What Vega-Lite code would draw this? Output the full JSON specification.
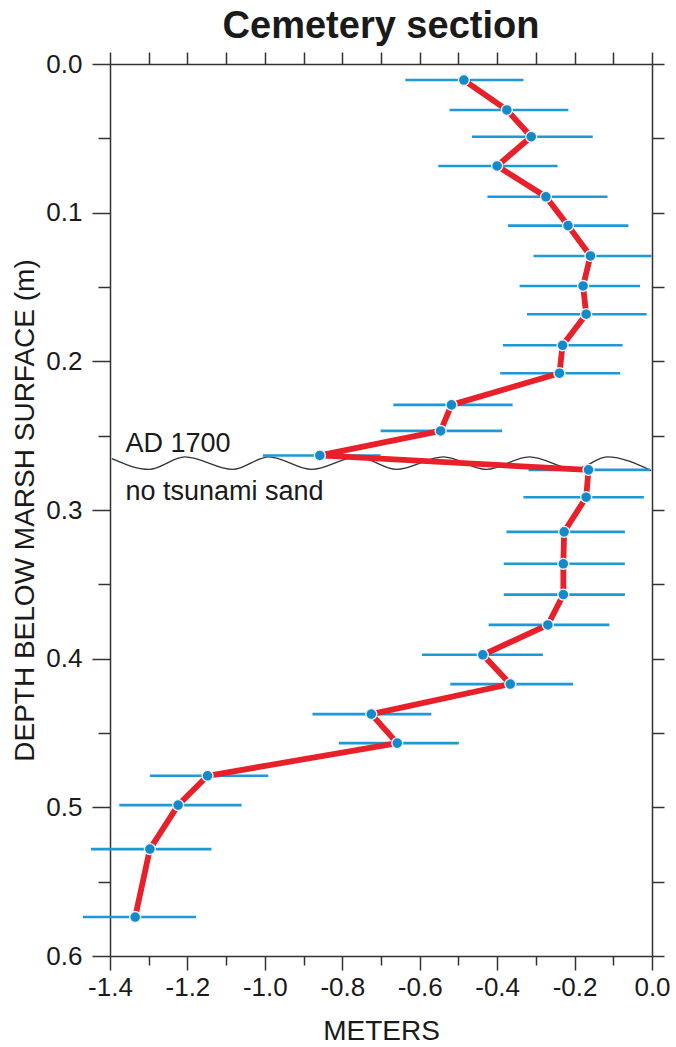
{
  "$schema": "https://vega.github.io/schema/vega-lite/v6.json",
  "autosize": {"type": "none"},
  "padding": {"left": 110, "top": 64, "right": 24, "bottom": 91},
  "width": 542,
  "height": 892,
  "background": "white",
  "config": {
    "view": {"stroke": null},
    "font": "Liberation Sans",
    "axis": {"grid": false, "labelFlush": false, "domainColor": "#333333", "domainWidth": 1.5, "tickColor": "#333333", "tickWidth": 1.5, "labelFont": "Liberation Sans", "labelFontSize": 26, "labelColor": "#1a1a1a", "titleFont": "Liberation Sans", "titleFontWeight": "normal", "titleColor": "#1a1a1a", "titleFontSize": 28}
  },
  "title": {"text": "Cemetery section", "fontSize": 38, "fontWeight": "bold", "font": "Liberation Sans", "color": "#1a1a1a", "anchor": "middle", "baseline": "alphabetic", "offset": -25},
  "datasets": {
    "pts": [
      {"depth": 0.0108, "val": -0.486, "lo": -0.637, "hi": -0.332},
      {"depth": 0.0309, "val": -0.375, "lo": -0.523, "hi": -0.216},
      {"depth": 0.0489, "val": -0.312, "lo": -0.465, "hi": -0.153},
      {"depth": 0.0686, "val": -0.400, "lo": -0.552, "hi": -0.244},
      {"depth": 0.0893, "val": -0.274, "lo": -0.425, "hi": -0.115},
      {"depth": 0.1087, "val": -0.217, "lo": -0.372, "hi": -0.061},
      {"depth": 0.1291, "val": -0.159, "lo": -0.306, "hi": -0.001},
      {"depth": 0.1493, "val": -0.178, "lo": -0.342, "hi": -0.031},
      {"depth": 0.1683, "val": -0.170, "lo": -0.323, "hi": -0.014},
      {"depth": 0.1892, "val": -0.231, "lo": -0.385, "hi": -0.076},
      {"depth": 0.2080, "val": -0.239, "lo": -0.392, "hi": -0.082},
      {"depth": 0.2293, "val": -0.518, "lo": -0.668, "hi": -0.360},
      {"depth": 0.2468, "val": -0.546, "lo": -0.701, "hi": -0.387},
      {"depth": 0.2633, "val": -0.858, "lo": -1.005, "hi": -0.701},
      {"depth": 0.2730, "val": -0.164, "lo": -0.319, "hi": -0.005},
      {"depth": 0.2914, "val": -0.170, "lo": -0.332, "hi": -0.021},
      {"depth": 0.3147, "val": -0.227, "lo": -0.376, "hi": -0.070},
      {"depth": 0.3362, "val": -0.229, "lo": -0.383, "hi": -0.070},
      {"depth": 0.3569, "val": -0.229, "lo": -0.383, "hi": -0.070},
      {"depth": 0.3773, "val": -0.269, "lo": -0.422, "hi": -0.110},
      {"depth": 0.3974, "val": -0.437, "lo": -0.594, "hi": -0.282},
      {"depth": 0.4171, "val": -0.366, "lo": -0.521, "hi": -0.204},
      {"depth": 0.4373, "val": -0.725, "lo": -0.877, "hi": -0.570},
      {"depth": 0.4568, "val": -0.658, "lo": -0.809, "hi": -0.499},
      {"depth": 0.4788, "val": -1.148, "lo": -1.297, "hi": -0.991},
      {"depth": 0.4985, "val": -1.224, "lo": -1.376, "hi": -1.060},
      {"depth": 0.5281, "val": -1.297, "lo": -1.449, "hi": -1.138},
      {"depth": 0.5738, "val": -1.335, "lo": -1.470, "hi": -1.178}
    ],
    "wave": [
      {"wx": -1.395, "wd": 0.2655},
      {"wx": -1.299, "wd": 0.2727},
      {"wx": -1.2065, "wd": 0.2643},
      {"wx": -1.083, "wd": 0.2727},
      {"wx": -0.990, "wd": 0.2643},
      {"wx": -0.879, "wd": 0.2727},
      {"wx": -0.7605, "wd": 0.2643},
      {"wx": -0.660, "wd": 0.2727},
      {"wx": -0.539, "wd": 0.2643},
      {"wx": -0.428, "wd": 0.2727},
      {"wx": -0.317, "wd": 0.2643},
      {"wx": -0.1985, "wd": 0.2727},
      {"wx": -0.116, "wd": 0.2643},
      {"wx": -0.002, "wd": 0.2735}
    ],
    "notes": [
      {"t": "AD 1700", "nx": -1.36, "nd": 0.2612},
      {"t": "no tsunami sand", "nx": -1.36, "nd": 0.2930}
    ]
  },
  "resolve": {"axis": {"x": "independent", "y": "independent"}},
  "layer": [
    {
      "data": {"name": "wave"},
      "mark": {"type": "line", "color": "#333333", "strokeWidth": 1.3, "interpolate": "monotone"},
      "encoding": {
        "x": {"field": "wx", "type": "quantitative", "scale": {"domain": [-1.4, 0], "nice": false, "zero": false},
          "axis": {"orient": "bottom", "title": "METERS", "values": [-1.4, -1.2, -1.0, -0.8, -0.6, -0.4, -0.2, 0], "tickSize": 14, "labelPadding": 4, "titlePadding": 17, "labelExpr": "(datum.value < -0.0001 ? '-' : '') + format(abs(datum.value), '.1f')"}},
        "y": {"field": "wd", "type": "quantitative", "scale": {"domain": [0, 0.6], "nice": false, "zero": false, "reverse": true},
          "axis": {"orient": "left", "title": "DEPTH BELOW MARSH SURFACE (m)", "values": [0, 0.1, 0.2, 0.3, 0.4, 0.5, 0.6], "tickSize": 18, "labelPadding": 10, "titlePadding": 6, "labelExpr": "format(datum.value, '.1f')"}},
        "order": {"field": "wx", "type": "quantitative"}
      }
    },
    {
      "data": {"name": "pts"},
      "mark": {"type": "rule", "color": "#1e98d6", "strokeWidth": 2.6},
      "encoding": {
        "x": {"field": "lo", "type": "quantitative", "scale": {"domain": [-1.4, 0], "nice": false, "zero": false},
          "axis": {"orient": "bottom", "title": null, "values": [-1.3, -1.1, -0.9, -0.7, -0.5, -0.3, -0.1], "tickSize": 9, "labels": false, "domain": false}},
        "x2": {"field": "hi"},
        "y": {"field": "depth", "type": "quantitative", "scale": {"domain": [0, 0.6], "nice": false, "zero": false, "reverse": true},
          "axis": {"orient": "left", "title": null, "values": [0.05, 0.15, 0.25, 0.35, 0.45, 0.55], "tickSize": 12, "labels": false, "domain": false}}
      }
    },
    {
      "data": {"name": "pts"},
      "mark": {"type": "line", "color": "#e8202a", "strokeWidth": 5.8, "strokeJoin": "round"},
      "encoding": {
        "x": {"field": "val", "type": "quantitative", "scale": {"domain": [-1.4, 0], "nice": false, "zero": false},
          "axis": {"orient": "top", "title": null, "values": [-1.4, -1.3, -1.2, -1.1, -1.0, -0.9, -0.8, -0.7, -0.6, -0.5, -0.4, -0.3, -0.2, -0.1, 0], "tickSize": 12, "labels": false}},
        "y": {"field": "depth", "type": "quantitative", "scale": {"domain": [0, 0.6], "nice": false, "zero": false, "reverse": true},
          "axis": {"orient": "right", "title": null, "values": [0, 0.05, 0.1, 0.15, 0.2, 0.25, 0.3, 0.35, 0.4, 0.45, 0.5, 0.55, 0.6], "tickSize": 12, "labels": false}},
        "order": {"field": "depth", "type": "quantitative"}
      }
    },
    {
      "data": {"name": "pts"},
      "mark": {"type": "circle", "size": 120, "color": "#1589c9", "opacity": 1, "stroke": "#e8f4fb", "strokeWidth": 1.4},
      "encoding": {
        "x": {"field": "val", "type": "quantitative", "scale": {"domain": [-1.4, 0], "nice": false, "zero": false}, "axis": null},
        "y": {"field": "depth", "type": "quantitative", "scale": {"domain": [0, 0.6], "nice": false, "zero": false, "reverse": true}, "axis": null}
      }
    },
    {
      "data": {"name": "notes"},
      "mark": {"type": "text", "align": "left", "baseline": "alphabetic", "fontSize": 27, "font": "Liberation Sans", "color": "#1a1a1a"},
      "encoding": {
        "x": {"field": "nx", "type": "quantitative", "scale": {"domain": [-1.4, 0], "nice": false, "zero": false}, "axis": null},
        "y": {"field": "nd", "type": "quantitative", "scale": {"domain": [0, 0.6], "nice": false, "zero": false, "reverse": true}, "axis": null},
        "text": {"field": "t"}
      }
    }
  ]
}
